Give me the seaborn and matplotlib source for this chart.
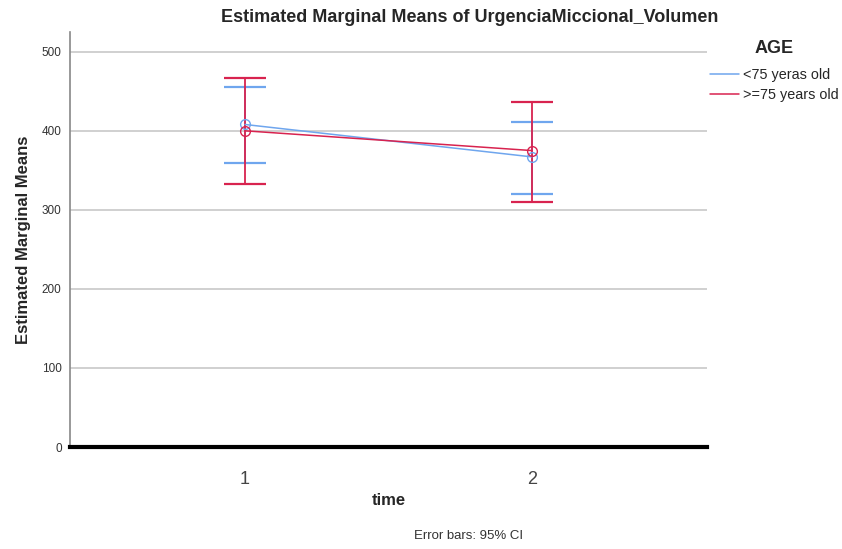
import matplotlib
matplotlib.use("Agg")
import matplotlib.pyplot as plt
import seaborn as sns
import pandas as pd

# Estimated marginal means per time point and age group, with 95% CI bounds
times = [1, 2]
groups = ["<75 yeras old", ">=75 years old"]
means_young = [408, 367]
lower_young = [359, 320]
upper_young = [456, 411]
means_old = [400, 375]
lower_old = [333, 310]
upper_old = [467, 437]

colors = {"<75 yeras old": "#6fa6ee", ">=75 years old": "#d8234f"}

df = pd.DataFrame({
    "time": times * 2,
    "mean": means_young + means_old,
    "lower": lower_young + lower_old,
    "upper": upper_young + upper_old,
    "AGE": [groups[0]] * 2 + [groups[1]] * 2,
})

sns.set_style("white")
plt.rcParams["font.family"] = ["Liberation Sans", "DejaVu Sans"]

fig = plt.figure(figsize=(8.42, 5.49), dpi=100)
ax = fig.add_axes([70 / 842, 1 - 447 / 549, 637 / 842, 415 / 549])

for g in groups:
    sub = df[df["AGE"] == g]
    cont = ax.errorbar(sub["time"], sub["mean"],
                       yerr=[sub["mean"] - sub["lower"], sub["upper"] - sub["mean"]],
                       fmt="none", ecolor=colors[g], color=colors[g],
                       elinewidth=1.3, capsize=15, capthick=1.6, zorder=3)
    for cap in cont.lines[1]:
        cap.set_color(colors[g])
        cap.set_markeredgecolor(colors[g])

sns.lineplot(data=df, x="time", y="mean", hue="AGE", palette=colors,
             hue_order=groups, marker="o", markersize=7, markerfacecolor="none",
             markeredgewidth=1.0, linewidth=1.1, ax=ax, zorder=4)
for line in ax.get_lines():
    if line.get_marker() == "o":
        line.set_markerfacecolor("none")
        line.set_markeredgecolor(line.get_color())

handles, labels = ax.get_legend_handles_labels()
if ax.get_legend() is not None:
    ax.get_legend().remove()

ax.set_xlim(0.39, 2.61)
ax.set_ylim(0, 525)
ax.set_xticks(times)
ax.set_xticklabels(["1", "2"], fontsize=13, color="#444444")
ax.set_yticks([0, 100, 200, 300, 400, 500])
ax.set_yticklabels(["0", "100", "200", "300", "400", "500"], fontsize=8.5, color="#333333")
ax.tick_params(axis="both", length=0, pad=6)
ax.tick_params(axis="x", pad=17)
ax.yaxis.grid(True, color="#c8c8c8", linewidth=1.2)
ax.set_axisbelow(True)

for side in ["top", "right"]:
    ax.spines[side].set_visible(False)
ax.spines["left"].set_color("#888888")
ax.spines["left"].set_linewidth(1.2)
ax.spines["bottom"].set_color("black")
ax.spines["bottom"].set_linewidth(3.0)

ax.set_xlabel("time", fontsize=12, fontweight="bold", labelpad=4)
ax.set_ylabel("Estimated Marginal Means", fontsize=12, fontweight="bold", labelpad=8)
fig.text(470 / 842, 1 - 17 / 549, "Estimated Marginal Means of UrgenciaMiccional_Volumen",
         ha="center", va="center", fontsize=13, fontweight="bold")
fig.text(469 / 842, 1 - 536 / 549, "Error bars: 95% CI", ha="center", va="center",
         fontsize=9.5, color="#333333")

for h in handles:
    h.set_marker("")
leg = fig.legend(handles, labels, title="AGE", loc="upper left",
                 bbox_to_anchor=(704 / 842, 1 - 34 / 549), frameon=False,
                 fontsize=10.4, handlelength=2.0, handletextpad=0.3,
                 labelspacing=0.4, borderaxespad=0.0)
leg.get_title().set_fontweight("bold")
leg.get_title().set_fontsize(13)
leg._legend_box.sep = 8

fig.savefig("out.png", dpi=100)
